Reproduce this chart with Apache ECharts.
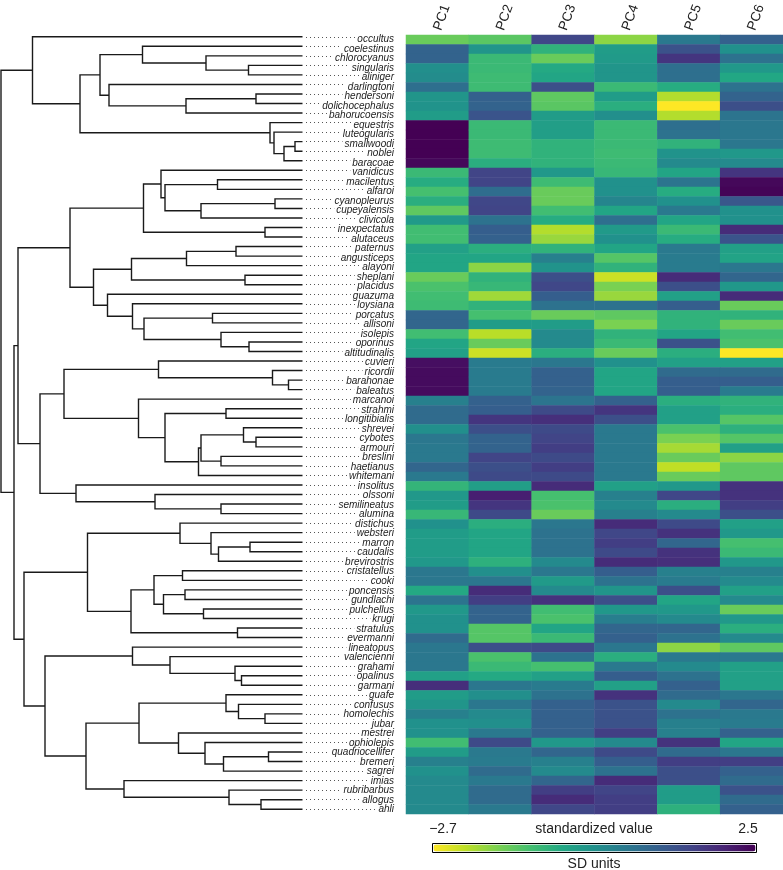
<!DOCTYPE html>
<html><head><meta charset="utf-8">
<script src="https://cdn.jsdelivr.net/npm/echarts@6/dist/echarts.min.js"></script>
<style>html,body{margin:0;padding:0;background:#fff}#c{width:783px;height:870px}</style>
</head><body><div id="c"></div><script>
const species = ['occultus','coelestinus','chlorocyanus','singularis','aliniger','darlingtoni','hendersoni','dolichocephalus','bahorucoensis','equestris',
'luteogularis','smallwoodi','noblei','baracoae','vanidicus','macilentus','alfaroi','cyanopleurus','cupeyalensis','clivicola',
'inexpectatus','alutaceus','paternus','angusticeps','alayoni','sheplani','placidus','guazuma','loysiana','porcatus',
'allisoni','isolepis','oporinus','altitudinalis','cuvieri','ricordii','barahonae','baleatus','marcanoi','strahmi',
'longitibialis','shrevei','cybotes','armouri','breslini','haetianus','whitemani','insolitus','olssoni','semilineatus',
'alumina','distichus','websteri','marron','caudalis','brevirostris','cristatellus','cooki','poncensis','gundlachi',
'pulchellus','krugi','stratulus','evermanni','lineatopus','valencienni','grahami','opalinus','garmani','guafe',
'confusus','homolechis','jubar','mestrei','ophiolepis','quadriocellifer','bremeri','sagrei','imias','rubribarbus',
'allogus','ahli'];
const pcLabels = ['PC1','PC2','PC3','PC4','PC5','PC6'];
const pc1 = [-1.5,0.85,0.85,-0.05,0.0,0.6,-0.2,-0.15,-0.35,2.5,
2.5,2.5,2.5,2.4,-1.0,-0.7,-1.15,-0.75,-1.4,-0.3,
-1.1,-1.1,-0.45,-0.55,-0.55,-1.5,-1.2,-1.1,-1.05,0.8,
0.8,-1.1,-0.55,-0.45,2.3,2.35,2.35,2.35,0.25,0.7,
0.7,-0.05,0.45,0.4,0.4,0.8,0.4,-0.9,-0.25,-0.35,
-0.95,-0.1,-0.35,-0.35,-0.35,-0.25,0.45,0.45,-0.65,0.5,
-0.25,-0.1,-0.1,0.7,0.45,0.45,0.45,-0.45,1.8,-0.35,
-0.2,0.25,-0.1,-0.1,-1.1,-0.35,0.25,-0.1,0.05,0.05,
0.05,0.05];
const pc2 = [-1.35,-0.2,-1.0,-1.0,-1.05,-1.05,0.9,0.85,1.15,-1.0,
-1.0,-1.05,-1.05,-0.75,1.45,1.45,0.65,1.4,1.45,0.55,
0.95,0.9,-0.75,-0.55,-1.8,-0.85,-0.95,-1.95,-0.85,-1.15,
-0.35,-2.15,-1.5,-2.3,0.35,0.35,0.35,0.35,0.9,0.95,
1.7,1.25,0.85,0.85,1.45,1.25,1.35,-0.4,2.05,1.7,
1.35,-0.75,-0.55,-0.55,-0.55,-0.8,-0.05,0.45,1.85,1.55,
0.85,0.85,-1.3,-1.3,1.25,-1.2,-1.0,-0.65,0.45,-0.05,
0.45,0.05,-0.05,0.4,1.35,0.4,0.35,0.7,0.4,0.7,
0.7,0.4];
const pc3 = [1.4,-0.85,-1.5,-0.65,-0.55,1.25,-1.4,-1.35,-0.35,-0.4,
-0.4,-0.85,-0.85,-0.85,-0.25,-1.05,-1.5,-1.5,-1.1,-0.7,
-2.1,-1.9,-0.85,0.25,-0.15,1.25,1.4,0.95,0.55,-1.5,
-0.35,0.05,0.05,-0.75,0.45,0.9,0.9,0.85,0.5,1.35,
1.8,1.35,1.45,1.55,1.35,1.55,1.35,1.85,-1.15,-1.2,
-1.5,0.45,0.55,0.55,0.55,0.05,0.45,-0.3,0.05,1.75,
-1.1,-1.2,-0.55,-1.0,1.35,0.55,-1.15,-0.45,0.35,0.55,
0.9,0.9,0.9,0.9,-0.25,0.8,0.25,0.05,0.8,1.55,
1.85,1.4];
const pc4 = [-1.8,-0.35,-0.3,-0.2,-0.2,-1.0,-0.35,-0.75,-0.05,-1.0,
-1.0,-1.0,-1.05,-1.0,-0.95,-0.1,-0.1,0.15,-0.55,0.6,
-0.3,-0.1,-0.55,-1.3,-0.85,-2.3,-1.65,-1.9,0.55,-1.4,
-1.65,-0.85,-1.0,-1.5,-0.1,-0.55,-0.55,-0.55,0.9,1.7,
1.25,0.4,0.4,0.4,0.4,0.4,0.4,-0.45,0.25,0.05,
0.25,1.85,1.4,1.55,1.35,1.85,0.95,0.55,-0.2,1.25,
-0.25,0.3,0.8,0.9,0.45,-0.75,0.4,0.95,-0.45,1.75,
1.2,1.2,1.2,1.55,0.05,1.35,0.95,0.55,1.85,1.45,
1.55,1.55];
const pc5 = [0.4,1.2,1.7,0.6,0.6,-0.7,-2.1,-2.7,-2.1,0.6,
0.55,-0.85,-0.15,0.05,-0.55,0.5,-0.7,-0.1,0.4,-0.55,
-1.0,-0.7,0.4,0.35,0.35,1.85,1.25,-0.45,0.95,-0.85,
-0.85,-0.55,1.2,-0.75,-0.45,0.7,0.95,0.95,-0.75,-0.45,
-0.45,-1.2,-1.65,-2.0,-1.5,-2.2,-1.5,-0.25,1.4,-0.75,
0.05,1.35,1.75,0.8,1.75,1.8,0.25,0.35,1.25,-0.55,
-0.25,0.05,0.8,0.55,-1.8,0.4,0.05,0.55,0.9,0.7,
0.05,0.55,0.25,0.25,1.75,0.7,1.55,1.25,1.25,-0.35,
-0.35,-0.8];
const pc6 = [0.9,-0.1,0.55,-0.25,-0.6,0.55,0.85,1.25,0.5,0.45,
0.45,0.45,-0.25,0.05,1.7,2.4,2.45,1.1,-0.1,-0.1,
1.85,1.15,-0.45,-0.5,0.45,0.8,-0.25,1.85,-1.5,-0.85,
-1.5,-1.1,-1.2,-2.7,-0.45,0.7,0.95,0.35,-0.85,-0.75,
-1.3,-0.8,-1.3,-0.45,-1.8,-1.4,-1.4,1.75,1.75,1.55,
1.25,-0.45,-0.25,-1.15,-1.0,-0.25,0.25,0.05,-0.45,0.05,
-1.5,-0.25,-0.75,0.05,-1.4,0.4,-0.45,-0.45,-0.45,0.45,
0.8,0.4,0.35,0.9,-0.55,0.45,1.55,0.9,0.7,1.2,
0.7,0.9];
// tree: [nodeDepth, child1, child2]; leaves are species names (depth = tipDepth)
const tree = [1,
  [32.5, 'occultus',
    [80,
      [100,
        [142.5, 'coelestinus', [206, 'chlorocyanus', [248.5, 'singularis', 'aliniger']]],
        [109, 'darlingtoni', [186, [256, 'hendersoni', 'dolichocephalus'], 'bahorucoensis']]],
      [270, 'equestris', [274, 'luteogularis', [284, [295, 'smallwoodi', 'noblei'], 'baracoae']]]]],
  [14,
    [18,
      [70,
        [143.5,
          [161, 'vanidicus', [165, [217.5, 'macilentus', 'alfaroi'], [201, [275, 'cyanopleurus', 'cupeyalensis'], 'clivicola']]],
          [265, 'inexpectatus', 'alutaceus']],
        [93.5,
          [131.5, [186.5, [236, 'paternus', 'angusticeps'], 'alayoni'], [245, 'sheplani', 'placidus']],
          [107.5, 'guazuma', [132.5, 'loysiana', [144, [212.5, 'porcatus', 'allisoni'], [221, 'isolepis', [249, 'oporinus', 'altitudinalis']]]]]]],
      [40,
        [64,
          [158.5, 'cuvieri', [272.5, 'ricordii', [288.5, 'barahonae', 'baleatus']]],
          [138.5, 'marcanoi', [165, [226, 'strahmi', 'longitibialis'],
            [198.5, [201, [243.5, 'shrevei', [256, 'cybotes', 'armouri']], [221, 'breslini', 'haetianus']], 'whitemani']]]],
        [76, 'insolitus', [155, 'olssoni', [221, 'semilineatus', 'alumina']]]]],
    [24,
      [87.5,
        [180, 'distichus', [211, 'websteri', [218.5, [250, 'marron', 'caudalis'], 'brevirostris']]],
        [131, [154, [182.5, 'cristatellus', 'cooki'], [163.5, [185, 'poncensis', 'gundlachi'], [203.5, 'pulchellus', 'krugi']]],
          [237.5, 'stratulus', 'evermanni']]],
      [45,
        [132.5, 'lineatopus', [170, 'valencienni', [235, 'grahami', [241.5, 'opalinus', 'garmani']]]],
        [86,
          [139,
            [226, 'guafe', [238.5, 'confusus', [265, 'homolechis', 'jubar']]],
            [178.5, 'mestrei', [205, 'ophiolepis', [223.5, [268.5, 'quadriocellifer', 'bremeri'], 'sagrei']]]],
          [124, 'imias', [229, 'rubribarbus', [261, 'allogus', 'ahli']]]]]]]];
const tipDepth = 302.5;
const leaderStart = 306, labelRight = 394;
const colorMin = -2.7, colorMax = 2.5;
const minLabel = '\u22122.7', maxLabel = '2.5';
const scaleTitle = 'standardized value', unitTitle = 'SD units';
const viridisRev = ['#FDE725','#BDDF26','#7AD151','#44BF70','#22A884','#21918C','#2A788E','#355F8D','#414487','#482475','#440154'];

const FONT = 'Liberation Sans, Arial, Helvetica, sans-serif';
const LABEL_SIZE = 10;

const pcs = [pc1, pc2, pc3, pc4, pc5, pc6];
const heatData = [];
pcs.forEach((arr, j) => arr.forEach((v, i) => heatData.push([j, i, v])));

const branchData = [];
function layout(node) {
  if (typeof node === 'string') return { x: tipDepth, y: species.indexOf(node) };
  const a = layout(node[1]), b = layout(node[2]);
  const x = node[0];
  branchData.push({ coords: [[a.x, a.y], [x, a.y], [x, b.y], [b.x, b.y]] });
  return { x, y: (a.y + b.y) / 2 };
}
layout(tree);
// leader dots end just before each label's text
const mctx = document.createElement('canvas').getContext('2d');
mctx.font = 'italic ' + LABEL_SIZE + 'px ' + FONT;
const leaderData = species.map((s, i) => ({ coords: [[leaderStart, i], [labelRight - mctx.measureText(s).width - 2, i]] }));

const chart = echarts.init(document.getElementById('c'), null, { renderer: 'canvas' });
const textStyle = { fontFamily: FONT, fontSize: 14, fontWeight: 'normal', color: '#222' };
chart.setOption({
  animation: false,
  backgroundColor: '#fff',
  title: [
    { text: minLabel, left: 443, top: 822, textAlign: 'center', padding: 0, textStyle },
    { text: scaleTitle, left: 594, top: 822, textAlign: 'center', padding: 0, textStyle },
    { text: maxLabel, left: 748, top: 822, textAlign: 'center', padding: 0, textStyle },
    { text: unitTitle, left: 594, top: 857, textAlign: 'center', padding: 0, textStyle }
  ],
  grid: [
    { left: 406, right: 0, top: 32, bottom: 56 },
    { left: 0, width: 400, top: 32, bottom: 56 }
  ],
  xAxis: [
    { type: 'category', gridIndex: 0, data: pcLabels, position: 'top',
      axisLine: { show: false }, axisTick: { show: false }, splitLine: { show: false },
      axisLabel: { rotate: -70, margin: 5, fontFamily: FONT, fontSize: 13.5, color: '#222' } },
    { type: 'value', gridIndex: 1, min: 0, max: 400, show: false }
  ],
  yAxis: [
    { type: 'category', gridIndex: 0, data: species, inverse: true,
      axisLine: { show: false }, axisTick: { show: false }, splitLine: { show: false },
      axisLabel: { interval: 0, margin: 406 - labelRight, fontFamily: FONT, fontSize: LABEL_SIZE, fontStyle: 'italic',
        color: '#222' } },
    { type: 'value', gridIndex: 1, min: -0.5, max: 81.5, inverse: true, show: false }
  ],
  visualMap: {
    type: 'continuous', seriesIndex: 0, min: colorMin, max: colorMax,
    orient: 'horizontal', left: 432, top: 843, itemWidth: 7, itemHeight: 322,
    calculable: false, hoverLink: false, text: null, showLabel: false,
    padding: 1, borderColor: '#000', borderWidth: 1,
    inRange: { color: viridisRev }
  },
  series: [
    { type: 'heatmap', xAxisIndex: 0, yAxisIndex: 0, data: heatData, silent: true,
      progressive: 0, emphasis: { disabled: true }, itemStyle: { borderWidth: 0 } },
    { type: 'lines', coordinateSystem: 'cartesian2d', xAxisIndex: 1, yAxisIndex: 1, polyline: true,
      silent: true, data: branchData, lineStyle: { color: '#1a1a1a', width: 1.4, opacity: 1 } },
    { type: 'lines', coordinateSystem: 'cartesian2d', xAxisIndex: 1, yAxisIndex: 1, polyline: false,
      silent: true, data: leaderData, lineStyle: { color: '#555', width: 1, type: [1, 3], opacity: 1 } }
  ]
});
</script></body></html>
